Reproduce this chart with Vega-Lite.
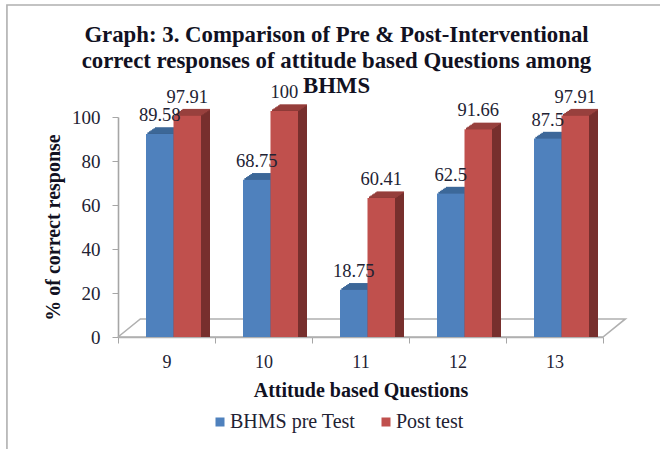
{
"$schema":"https://vega.github.io/schema/vega-lite/v6.json",
"width":485,"height":220,
"autosize":{"type":"none"},
"padding":{"left":118,"top":117,"right":57,"bottom":112},
"background":"white",
"config":{"view":{"stroke":null},"font":"Liberation Serif"},
"title":{"text":["Graph: 3. Comparison of Pre & Post-Interventional","correct responses of attitude based Questions among","BHMS"],"font":"Liberation Serif","fontSize":22.8,"fontWeight":"bold","color":"#111122","lineHeight":25.5,"anchor":"middle","dx":-24,"offset":-96},
"resolve":{"scale":{"x":"independent"},"axis":{"x":"independent"}},
"layer":[
{"data":{"values":[
{"part":"floor","o":1,"px":0,"py":0},{"part":"floor","o":2,"px":5,"py":0},{"part":"floor","o":3,"px":5.23,"py":8.2},{"part":"floor","o":4,"px":0.23,"py":8.2},{"part":"floor","o":5,"px":0,"py":0},
{"part":"border","o":1,"px":5.588,"py":150.9},{"part":"border","o":2,"px":-1.145,"py":150.9},{"part":"border","o":3,"px":-1.145,"py":-51}
]},
"mark":{"type":"line","stroke":"#b0b0b0","strokeWidth":1.6,"clip":false},
"encoding":{
"x":{"field":"px","type":"quantitative","scale":{"domain":[0,5],"nice":false,"zero":false},"axis":null},
"y":{"field":"py","type":"quantitative","scale":{"domain":[0,100],"nice":false}},
"detail":{"field":"part"},
"order":{"field":"o"}
}},
{"data":{"values":[
{"q":9,"series":"BHMS pre Test","value":89.58},{"q":9,"series":"Post test","value":97.91},
{"q":10,"series":"BHMS pre Test","value":68.75},{"q":10,"series":"Post test","value":100},
{"q":11,"series":"BHMS pre Test","value":18.75},{"q":11,"series":"Post test","value":60.41},
{"q":12,"series":"BHMS pre Test","value":62.5},{"q":12,"series":"Post test","value":91.66},
{"q":13,"series":"BHMS pre Test","value":87.5},{"q":13,"series":"Post test","value":97.91}
]},
"encoding":{
"x":{"field":"q","type":"ordinal","scale":{"paddingInner":0,"paddingOuter":0},
 "axis":{"title":"Attitude based  Questions","titleFont":"Liberation Serif","titleFontSize":20,"titleFontWeight":"bold","titleColor":"#111122","titlePadding":9,"labelFont":"Liberation Serif","labelFontSize":18,"labelColor":"#222233","labelAngle":0,"labelPadding":10,"tickBand":"extent","tickColor":"#a6a6a6","tickSize":6,"domainColor":"#b0b0b0","domainWidth":1.6,"grid":false}},
"y":{"field":"value","type":"quantitative","stack":null,"scale":{"domain":[0,100],"nice":false},
 "axis":{"title":"% of correct  response","titleFont":"Liberation Serif","titleFontSize":20,"titleFontWeight":"bold","titleColor":"#111122","titlePadding":8,"labelFont":"Liberation Serif","labelFontSize":19,"labelColor":"#222233","labelPadding":12,"tickColor":"#a6a6a6","tickSize":6,"domainColor":"#a6a6a6","domainWidth":1.6,"grid":false,"values":[0,20,40,60,80,100]}}
},
"layer":[
{"mark":{"type":"bar","width":27.5,"xOffset":{"expr":"(datum.series=='Post test'?20.75:-6.75)+1.5"},"yOffset":-7},"encoding":{"color":{"condition":{"test":"datum.series=='Post test'","value":"#772f2d"},"value":"#385d8a"}}},
{"mark":{"type":"bar","width":27.5,"xOffset":{"expr":"(datum.series=='Post test'?20.75:-6.75)+3"},"yOffset":-8},"encoding":{"color":{"condition":{"test":"datum.series=='Post test'","value":"#772f2d"},"value":"#385d8a"}}},
{"mark":{"type":"bar","width":27.5,"xOffset":{"expr":"(datum.series=='Post test'?20.75:-6.75)+4.5"},"yOffset":-9},"encoding":{"color":{"condition":{"test":"datum.series=='Post test'","value":"#772f2d"},"value":"#385d8a"}}},
{"mark":{"type":"bar","width":27.5,"xOffset":{"expr":"(datum.series=='Post test'?20.75:-6.75)+6"},"yOffset":-10},"encoding":{"color":{"condition":{"test":"datum.series=='Post test'","value":"#772f2d"},"value":"#385d8a"}}},
{"mark":{"type":"bar","width":27.5,"xOffset":{"expr":"(datum.series=='Post test'?20.75:-6.75)+7.5"},"yOffset":-11},"encoding":{"color":{"condition":{"test":"datum.series=='Post test'","value":"#772f2d"},"value":"#385d8a"}}},
{"mark":{"type":"bar","width":27.5,"xOffset":{"expr":"(datum.series=='Post test'?20.75:-6.75)+9"},"yOffset":-12},"encoding":{"color":{"condition":{"test":"datum.series=='Post test'","value":"#772f2d"},"value":"#385d8a"}}},
{"mark":{"type":"tick","size":27.5,"thickness":1.4,"opacity":1,"xOffset":{"expr":"(datum.series=='Post test'?20.75:-6.75)+1.5"},"yOffset":-7},"encoding":{"color":{"condition":{"test":"datum.series=='Post test'","value":"#98403d"},"value":"#3d6899"}}},
{"mark":{"type":"tick","size":27.5,"thickness":1.4,"opacity":1,"xOffset":{"expr":"(datum.series=='Post test'?20.75:-6.75)+3"},"yOffset":-8},"encoding":{"color":{"condition":{"test":"datum.series=='Post test'","value":"#98403d"},"value":"#3d6899"}}},
{"mark":{"type":"tick","size":27.5,"thickness":1.4,"opacity":1,"xOffset":{"expr":"(datum.series=='Post test'?20.75:-6.75)+4.5"},"yOffset":-9},"encoding":{"color":{"condition":{"test":"datum.series=='Post test'","value":"#98403d"},"value":"#3d6899"}}},
{"mark":{"type":"tick","size":27.5,"thickness":1.4,"opacity":1,"xOffset":{"expr":"(datum.series=='Post test'?20.75:-6.75)+6"},"yOffset":-10},"encoding":{"color":{"condition":{"test":"datum.series=='Post test'","value":"#98403d"},"value":"#3d6899"}}},
{"mark":{"type":"tick","size":27.5,"thickness":1.4,"opacity":1,"xOffset":{"expr":"(datum.series=='Post test'?20.75:-6.75)+7.5"},"yOffset":-11},"encoding":{"color":{"condition":{"test":"datum.series=='Post test'","value":"#98403d"},"value":"#3d6899"}}},
{"mark":{"type":"tick","size":27.5,"thickness":1.4,"opacity":1,"xOffset":{"expr":"(datum.series=='Post test'?20.75:-6.75)+9"},"yOffset":-12},"encoding":{"color":{"condition":{"test":"datum.series=='Post test'","value":"#98403d"},"value":"#3d6899"}}},
{"mark":{"type":"bar","width":27.5,"xOffset":{"expr":"datum.series=='Post test'?20.75:-6.75"},"yOffset":-6},"encoding":{"color":{"field":"series","type":"nominal","scale":{"domain":["BHMS pre Test","Post test"],"range":["#4f81bd","#c0504d"]},
 "legend":{"title":null,"orient":"none","legendX":92,"legendY":294,"direction":"horizontal","symbolType":"square","symbolSize":81,"symbolStrokeWidth":0,"labelFont":"Liberation Serif","labelFontSize":20,"labelColor":"#222233","columnPadding":20,"labelOffset":0,"clipHeight":22}}}},
{"mark":{"type":"text","baseline":"middle","align":"center","fontSize":18.5,"font":"Liberation Serif","color":"#222233","xOffset":{"expr":"datum.series=='Post test'?20.75:-6.75"},"yOffset":-25},"encoding":{"text":{"field":"value","type":"quantitative"}}}
]}
]}
